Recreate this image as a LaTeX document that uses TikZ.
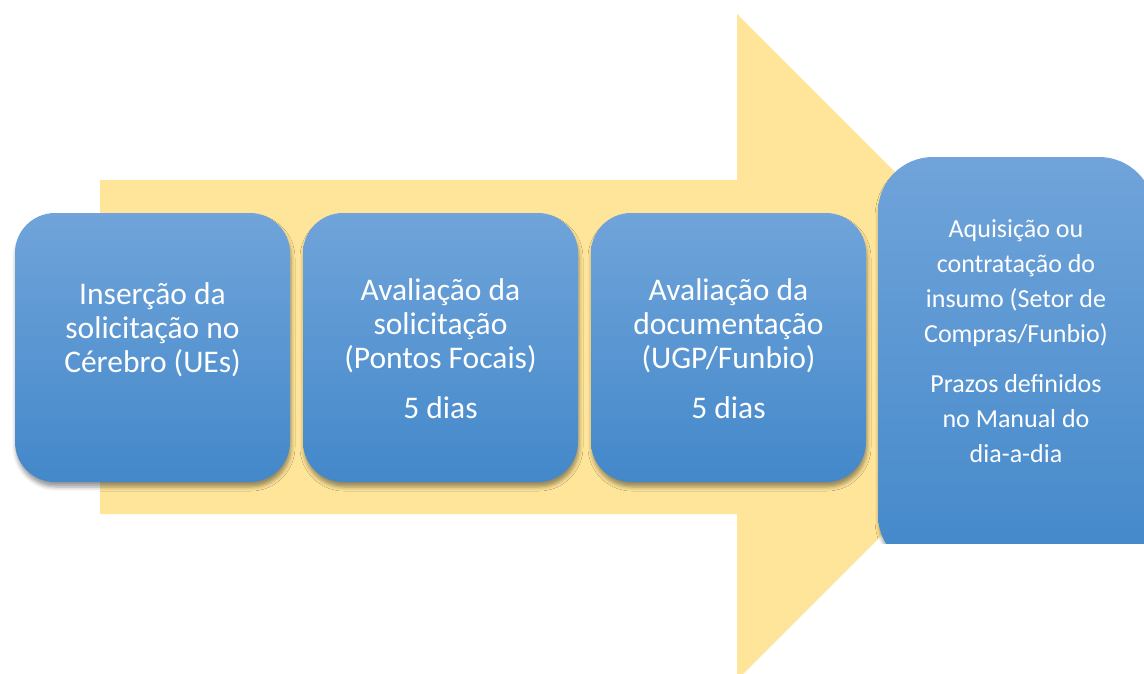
\documentclass[tikz,border=0pt]{standalone}
\usepackage{fontspec}
\setmainfont{Carlito}
\usetikzlibrary{shadows.blur}

\definecolor{pijl}{RGB}{255,229,153}
\definecolor{blokboven}{RGB}{112,164,218}
\definecolor{blokonder}{RGB}{67,136,202}

\tikzset{
  blok/.style={shape=rectangle, inner sep=0pt, rounded corners=40pt,
    minimum width=275pt, minimum height=269pt,
    top color=blokboven, bottom color=blokonder,
    blur shadow={shadow xshift=1pt, shadow yshift=-5pt, shadow blur radius=4pt, shadow opacity=40}},
  tekst/.style={text=white, align=center, font=\fontsize{31.5}{34}\selectfont},
  kleintekst/.style={text=white, align=center, font=\fontsize{26}{35}\selectfont}
}

\begin{document}
\begin{tikzpicture}[x=1pt,y=-1pt]
\useasboundingbox (0,0) rectangle (1144,673);
\clip (0,0) rectangle (1144,673);

\fill[pijl] (100,180) -- (737,180) -- (737,14) -- (1070,347) -- (737,680) -- (737,514) -- (100,514) -- cycle;

\node[blok] (b1) at (152.5,347.5) {};
\node[blok] (b2) at (440.5,347.5) {};
\node[blok] (b3) at (728.5,347.5) {};
\begin{scope}
\clip (860,140) rectangle (1144,543);
\node[blok, rounded corners=55pt, minimum width=276pt, minimum height=413pt] (b4) at (1016,363.5) {};
\end{scope}

\node[tekst] (t1) at (152.5,330) {Inserção da\\solicitação no\\Cérebro (UEs)};
\node[tekst] (t2) at (440.5,349) {Avaliação da\\solicitação\\(Pontos Focais)\\[16pt]5 dias};
\node[tekst] (t3) at (728.5,349) {Avaliação da\\documentação\\(UGP/Funbio)\\[16pt]5 dias};
\node[kleintekst] (t4) at (1016,341) {Aquisição ou\\contratação do\\insumo (Setor de\\Compras/Funbio)\\[15pt]Prazos definidos\\no Manual do\\dia-a-dia};
\end{tikzpicture}
\end{document}
